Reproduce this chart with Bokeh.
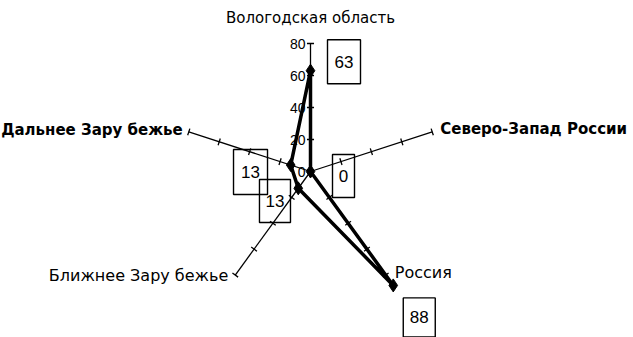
import numpy as np
from bokeh.plotting import figure
from bokeh.models import Range1d
from bokeh.core.properties import value
from bokeh.embed import file_html
from bokeh.resources import INLINE

# ---- data ----
categories = ["Вологодская область", "Северо-Запад России", "Россия",
              "Ближнее Зару бежье", "Дальнее Зару бежье"]
values = [63, 0, 88, 13, 13]
ticks = [0, 20, 40, 60, 80]
tick_labels = ["0", "20", "40", "60", "80"]
r_max = 80

# ---- layout / styles ----
W, H = 633, 337
S = 1.6            # px per value unit
CX, CY = 310, 171  # centre in figure px
FONT = "Liberation Sans"
LFONT = "DejaVu Sans"

p = figure(width=W, height=H, output_backend="svg", toolbar_location=None,
           x_range=Range1d(-CX / S, (W - CX) / S),
           y_range=Range1d(-(H - CY) / S, CY / S),
           x_axis_type=None, y_axis_type=None, min_border=0,
           outline_line_color=None, background_fill_color="white",
           border_fill_color="white")

n = len(categories)
ang = np.deg2rad(90 - 72 * np.arange(n))
ca, sa = np.cos(ang), np.sin(ang)

# spokes
p.segment(x0=[0] * n, y0=[0] * n, x1=list(r_max * ca), y1=list(r_max * sa),
          line_color="black", line_width=1.3)

# tick marks
half = 2.2
tx0, ty0, tx1, ty1 = [], [], [], []
for i in range(n):
    nx, ny = -sa[i], ca[i]
    for t in ticks[1:]:
        px, py = t * ca[i], t * sa[i]
        tx0.append(px - half * nx); ty0.append(py - half * ny)
        tx1.append(px + half * nx); ty1.append(py + half * ny)
p.segment(x0=tx0, y0=ty0, x1=tx1, y1=ty1, line_color="black", line_width=1.3)

# tick labels on the top spoke
p.text(x=[0] * len(ticks), y=ticks, text=tick_labels, x_offset=-5,
       text_align="right", text_baseline="middle",
       text_font=value(FONT), text_font_size="14px", text_color="black")

# data polygon
v = np.array(values, dtype=float)
xs = list(v * ca) + [v[0] * ca[0]]
ys = list(v * sa) + [v[0] * sa[0]]
p.line(xs, ys, line_color="black", line_width=3.5, line_join="miter")
p.scatter(list(v * ca), list(v * sa), marker="diamond", size=13,
          fill_color="black", line_color="black")

# data label boxes (offsets in px from the point, image y downward)
box_off = [(33.5, -9), (33, 4.5), (26, 32), (-23.3, 12.7), (-40.2, 6.9)]
box_size = [(33, 44), (22, 43), (32, 39), (31, 43), (34, 45)]
order = [4, 0, 1, 2, 3]
bx = [v[i] * ca[i] + box_off[i][0] / S for i in order]
by = [v[i] * sa[i] - box_off[i][1] / S for i in order]
p.rect(x=bx, y=by, width=[box_size[i][0] for i in order],
       height=[box_size[i][1] for i in order],
       width_units="screen", height_units="screen",
       fill_alpha=0, line_color="black", line_width=1.4)
p.text(x=bx, y=by, text=[str(values[i]) for i in order],
       text_align="center", text_baseline="middle",
       text_font=value(FONT), text_font_size="17px", text_color="black")

# category labels at the spoke ends
lab_off = [(0, -26), (8, -3), (9, -3), (-7, 0), (-6, -2)]
lab_align = ["center", "left", "left", "right", "right"]
lab_style = ["normal", "bold", "normal", "normal", "bold"]
lab_size = ["15px", "15px", "16px", "16px", "15px"]
for i in range(n):
    p.text(x=[r_max * ca[i]], y=[r_max * sa[i]], text=[categories[i]],
           x_offset=lab_off[i][0], y_offset=lab_off[i][1],
           text_align=lab_align[i], text_baseline="middle",
           text_font=value(LFONT), text_font_size=lab_size[i],
           text_font_style=lab_style[i], text_color="black")

open("out.html", "w").write(file_html(p, INLINE))
